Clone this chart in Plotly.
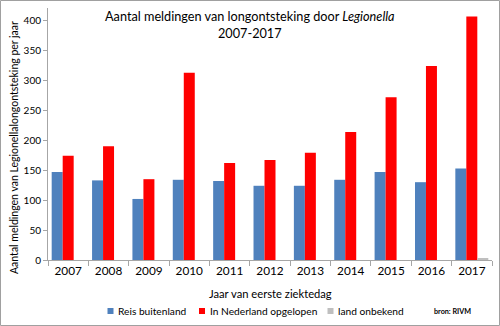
import plotly.graph_objects as go

years = ["2007", "2008", "2009", "2010", "2011", "2012", "2013", "2014", "2015", "2016", "2017"]
reis_buitenland = [147, 133, 102, 134, 132, 124, 124, 134, 147, 130, 153]
in_nederland = [174, 190, 135, 313, 162, 167, 179, 214, 272, 324, 407]
land_onbekend = [0, 0, 0, 0, 0, 0, 0, 0, 0, 0, 2]
series_names = ["Reis buitenland", "In Nederland opgelopen", "land onbekend"]
series_colors = ["#4F81BD", "#FF0000", "#BFBFBF"]

W, H = 500, 326
ML, MR, MT, MB = 48, 8, 8, 66
pw, ph = W - ML - MR, H - MT - MB

def px(x):
    return (x - ML) / pw

def py(y):
    return (H - MB - y) / ph

font = "Lato, 'Open Sans', sans-serif"

fig = go.Figure()
for name, vals, col in zip(series_names, [reis_buitenland, in_nederland, land_onbekend], series_colors):
    fig.add_bar(x=years, y=vals, name=name, marker_color=col, marker_line_width=0,
                showlegend=False)

# legend drawn as small squares + labels (compact Excel-style legend)
legend_marker_x = [107.5, 199, 327.5]
shapes = []
annotations = []
for name, col, mx in zip(series_names, series_colors, legend_marker_x):
    shapes.append(dict(type="rect", xref="paper", yref="paper",
                       x0=px(mx), x1=px(mx + 6), y0=py(314), y1=py(308),
                       fillcolor=col, line=dict(width=0)))
    annotations.append(dict(text=name, xref="paper", yref="paper", x=px(mx + 8.5), y=py(311),
                            xanchor="left", yanchor="middle", showarrow=False,
                            font=dict(size=10.2, color="black")))

annotations += [
    dict(text="Aantal meldingen van longontsteking door <i>Legionella</i><br>2007-2017",
         xref="paper", yref="paper", x=px(250), y=py(6), xanchor="center", yanchor="top",
         showarrow=False, font=dict(size=12.7, color="black"), align="center"),
    dict(text="<b>bron: RIVM</b>", xref="paper", yref="paper", x=px(452.5), y=py(311),
         xanchor="center", yanchor="middle", showarrow=False, font=dict(size=7.2)),
    dict(text="Aantal meldingen van Legionellalongontsteking per jaar", textangle=-90,
         xref="paper", yref="paper", x=px(14), y=py(148), xanchor="center", yanchor="middle",
         showarrow=False, font=dict(size=10.5, color="black")),
    dict(text="Jaar van eerste ziektedag", xref="paper", yref="paper", x=px(270), y=py(293),
         xanchor="center", yanchor="middle", showarrow=False, font=dict(size=11.2, color="black")),
]

shapes.append(dict(type="rect", xref="paper", yref="paper",
                   x0=px(0.5), x1=px(W - 0.5), y0=py(H - 0.5), y1=py(0.5),
                   line=dict(color="#A0A0A0", width=1), layer="below"))

fig.update_layout(
    width=W, height=H,
    margin=dict(l=ML, r=MR, t=MT, b=MB),
    paper_bgcolor="white", plot_bgcolor="white",
    barmode="group", bargap=0.183, bargroupgap=0,
    font=dict(family=font, color="black"),
    showlegend=False,
    xaxis=dict(type="category", showline=True, linecolor="#A6A6A6", linewidth=1,
               ticks="outside", ticklen=5, tickcolor="#A6A6A6", tickson="boundaries",
               tickfont=dict(size=11.8), showgrid=False),
    yaxis=dict(range=[0, 421], tickvals=[0, 50, 100, 150, 200, 250, 300, 350, 400],
               showline=True, linecolor="#A6A6A6", linewidth=1, ticks="outside",
               ticklen=4, tickcolor="#A6A6A6", tickfont=dict(size=10), showgrid=False,
               zeroline=False),
    annotations=annotations,
    shapes=shapes,
)

fig.write_html("out.html")
